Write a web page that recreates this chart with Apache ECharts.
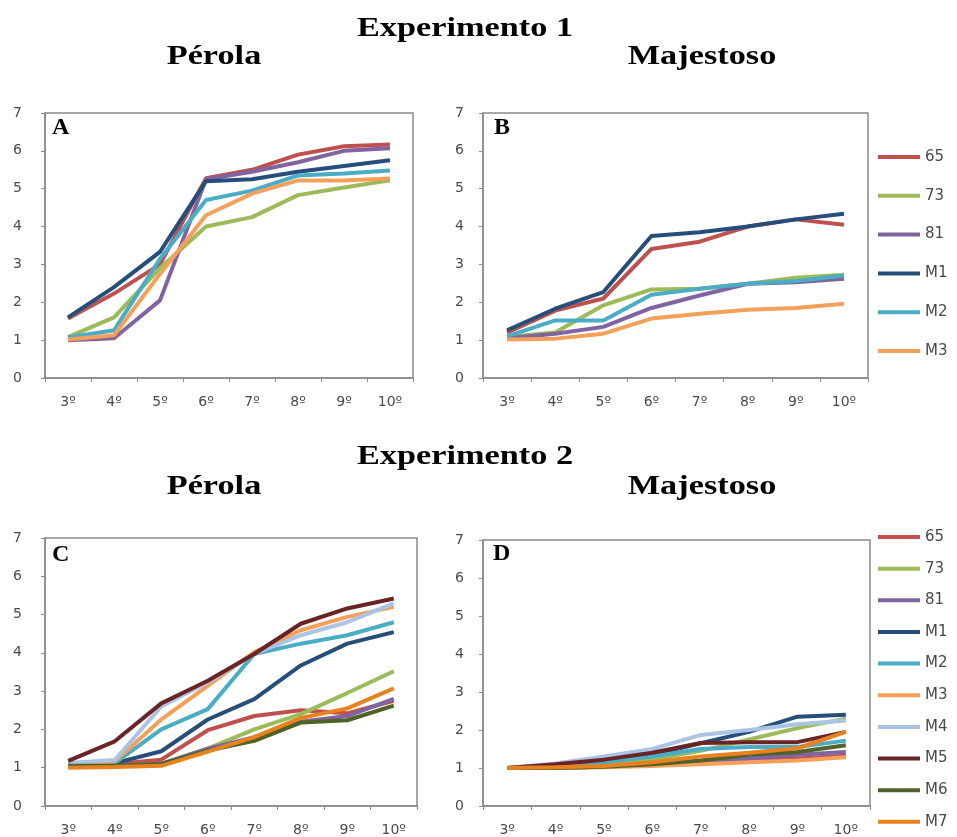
<!DOCTYPE html>
<html>
<head>
<meta charset="utf-8">
<script src="https://cdn.jsdelivr.net/npm/echarts@6/dist/echarts.min.js"></script>
<style>html,body{margin:0;padding:0;background:#fff}#c{width:957px;height:837px}</style>
</head>
<body>
<div id="c"></div>
<script>
const categories = ['3º','4º','5º','6º','7º','8º','9º','10º'];
const yTicks = [0,1,2,3,4,5,6,7];
const names1 = ['65','73','81','M1','M2','M3'];
const names2 = ['65','73','81','M1','M2','M3','M4','M5','M6','M7'];

// Experimento 1 - Pérola (A)
const A_65 = [1.57,2.23,3.0,5.28,5.5,5.9,6.12,6.17];
const A_73 = [1.08,1.6,2.9,4.0,4.25,4.83,5.03,5.22];
const A_81 = [1.0,1.05,2.05,5.25,5.45,5.7,6.0,6.07];
const A_M1 = [1.6,2.4,3.33,5.2,5.25,5.45,5.6,5.75];
const A_M2 = [1.07,1.26,3.15,4.7,4.95,5.35,5.4,5.48];
const A_M3 = [1.02,1.13,2.75,4.3,4.87,5.22,5.22,5.27];

// Experimento 1 - Majestoso (B)
const B_65 = [1.2,1.78,2.1,3.41,3.6,4.0,4.19,4.05];
const B_73 = [1.08,1.2,1.92,2.34,2.36,2.49,2.65,2.73];
const B_81 = [1.05,1.17,1.35,1.85,2.18,2.49,2.53,2.62];
const B_M1 = [1.26,1.83,2.27,3.75,3.85,4.0,4.19,4.34];
const B_M2 = [1.1,1.52,1.52,2.2,2.36,2.49,2.56,2.71];
const B_M3 = [1.02,1.04,1.17,1.57,1.7,1.8,1.85,1.96];

// Experimento 2 - Pérola (C)
const C_65 = [1.1,1.1,1.21,1.98,2.35,2.5,2.42,2.75];
const C_73 = [1.05,1.05,1.1,1.5,2.0,2.4,2.95,3.52];
const C_81 = [1.05,1.05,1.1,1.5,1.8,2.2,2.35,2.8];
const C_M1 = [1.12,1.12,1.43,2.26,2.79,3.67,4.24,4.54];
const C_M2 = [1.1,1.12,2.0,2.53,3.97,4.24,4.46,4.8];
const C_M3 = [1.08,1.17,2.26,3.14,4.02,4.59,4.94,5.2];
const C_M4 = [1.12,1.2,2.6,3.23,3.97,4.46,4.8,5.29];
const C_M5 = [1.18,1.69,2.68,3.27,3.97,4.76,5.16,5.42];
const C_M6 = [1.05,1.05,1.1,1.45,1.7,2.18,2.24,2.62];
const C_M7 = [1.0,1.02,1.05,1.42,1.8,2.3,2.55,3.07];

// Experimento 2 - Majestoso (D)
const D_65 = [1.0,1.0,1.03,1.08,1.12,1.18,1.25,1.32];
const D_73 = [1.0,1.05,1.1,1.22,1.45,1.75,2.05,2.3];
const D_81 = [1.0,1.02,1.05,1.1,1.18,1.25,1.35,1.42];
const D_M1 = [1.0,1.08,1.2,1.35,1.65,1.95,2.35,2.4];
const D_M2 = [1.0,1.05,1.15,1.3,1.5,1.55,1.55,1.72];
const D_M3 = [1.0,1.0,1.02,1.05,1.1,1.15,1.2,1.28];
const D_M4 = [1.0,1.12,1.3,1.5,1.87,2.0,2.15,2.25];
const D_M5 = [1.0,1.1,1.22,1.4,1.66,1.68,1.68,1.95];
const D_M6 = [1.0,1.0,1.03,1.1,1.2,1.35,1.42,1.6];
const D_M7 = [1.0,1.02,1.05,1.15,1.3,1.4,1.52,1.95];

const colors = {
  '65':'#C0504D','73':'#9BBB59','81':'#8064A2','M1':'#254E7A','M2':'#4BACC6',
  'M3':'#F5A05A','M4':'#A9C4E4','M5':'#6B2426','M6':'#4F6228','M7':'#E8821E'
};

const panels = [
  {data:{'65':A_65,'73':A_73,'81':A_81,'M1':A_M1,'M2':A_M2,'M3':A_M3}, names:names1},
  {data:{'65':B_65,'73':B_73,'81':B_81,'M1':B_M1,'M2':B_M2,'M3':B_M3}, names:names1},
  {data:{'65':C_65,'73':C_73,'81':C_81,'M1':C_M1,'M2':C_M2,'M3':C_M3,'M4':C_M4,'M5':C_M5,'M6':C_M6,'M7':C_M7}, names:names2},
  {data:{'65':D_65,'73':D_73,'81':D_81,'M1':D_M1,'M2':D_M2,'M3':D_M3,'M4':D_M4,'M5':D_M5,'M6':D_M6,'M7':D_M7}, names:names2}
];

const grids = [
  {left:45, top:113, width:368, height:265},
  {left:483, top:113, width:385, height:265},
  {left:45, top:538, width:372, height:268},
  {left:483, top:540, width:387, height:266}
];

const axisColor = '#8a8a8a';
const labelColor = '#4a4a4a';
const tickFont = 'DejaVu Sans';

const option = {
  animation:false,
  backgroundColor:'#fff',
  grid: grids.map(g => Object.assign({show:true, borderColor:axisColor, borderWidth:1.5, backgroundColor:'#fff'}, g)),
  xAxis: grids.map((g,i) => ({
    type:'category', gridIndex:i, data:categories, boundaryGap:true,
    axisLine:{show:true, lineStyle:{color:axisColor, width:1.5}},
    axisTick:{show:true, length:4, lineStyle:{color:axisColor}},
    axisLabel:{color:labelColor, fontSize:14, fontFamily:tickFont, margin:17},
    splitLine:{show:false}
  })),
  yAxis: grids.map((g,i) => ({
    type:'value', gridIndex:i, min:yTicks[0], max:yTicks[yTicks.length-1], interval:1,
    axisLine:{show:true, lineStyle:{color:axisColor, width:1.5}},
    axisTick:{show:true, length:4, lineStyle:{color:axisColor}},
    axisLabel:{color:labelColor, fontSize:14, fontFamily:tickFont, margin:i%2===0?23:19},
    splitLine:{show:false}
  })),
  legend: [
    {data:names1, orient:'vertical', left:878, top:149, padding:0, height:260, icon:'rect', itemWidth:42, itemHeight:4, itemGap:22.8,
     textStyle:{color:labelColor, fontSize:15, fontFamily:tickFont, lineHeight:16}, selectedMode:false},
    {data:names2, orient:'vertical', left:878, top:529, padding:0, height:305, icon:'rect', itemWidth:42, itemHeight:4, itemGap:15.65,
     textStyle:{color:labelColor, fontSize:15, fontFamily:tickFont, lineHeight:16}, selectedMode:false}
  ],
  series: [],
  graphic: []
};

panels.forEach((p,i) => {
  p.names.forEach(n => {
    option.series.push({
      type:'line', name:n, xAxisIndex:i, yAxisIndex:i, data:p.data[n],
      symbol:'none', smooth:false,
      itemStyle:{color:colors[n]},
      lineStyle:{color:colors[n], width:4},
      emphasis:{disabled:true}
    });
  });
});

const serif = '"Liberation Serif", "DejaVu Serif", serif';
function title(text, x, y, size, sx){
  return {type:'text', x:x, y:y, scaleX:sx, style:{text:text, x:0, y:0, align:'center', verticalAlign:'middle',
    fill:'#000', font:'bold '+size+'px '+serif}};
}
function letter(text, x, y){
  return {type:'text', x:x, y:y, style:{text:text, x:0, y:0, align:'left', verticalAlign:'middle',
    fill:'#000', font:'bold 24px '+serif}};
}
option.graphic = [
  title('Experimento 1', 465, 29, 27, 1.27),
  title('Pérola', 214, 57, 27, 1.27),
  title('Majestoso', 702, 57, 27, 1.27),
  title('Experimento 2', 465, 457, 27, 1.27),
  title('Pérola', 214, 487, 27, 1.27),
  title('Majestoso', 702, 487, 27, 1.27),
  letter('A', 52, 128),
  letter('B', 494, 128),
  letter('C', 52, 555),
  letter('D', 493, 554)
];

const chart = echarts.init(document.getElementById('c'));
chart.setOption(option);
</script>
</body>
</html>
